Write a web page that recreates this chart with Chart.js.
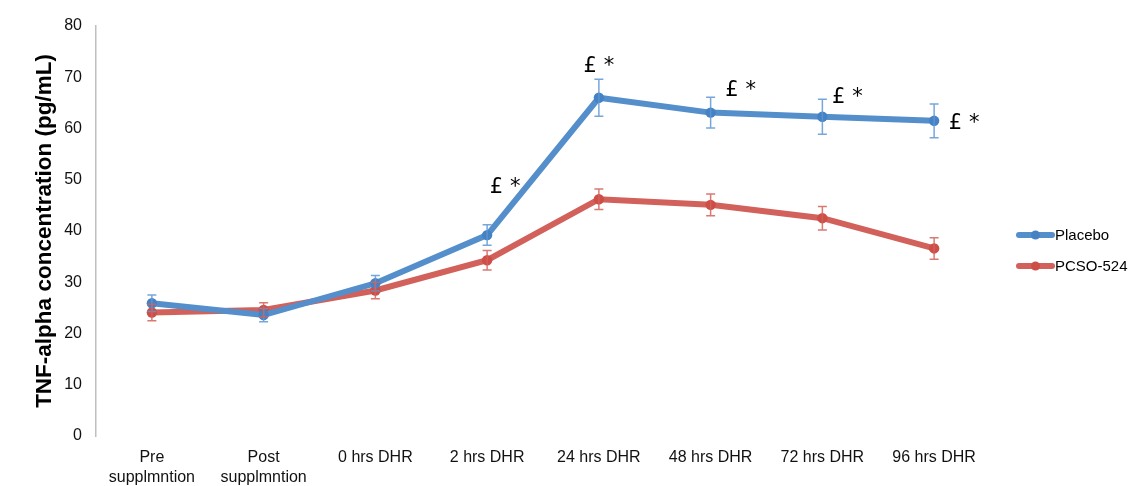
<!DOCTYPE html>
<html>
<head>
<meta charset="utf-8">
<script src="https://cdn.jsdelivr.net/npm/chart.js@4.4.1/dist/chart.umd.min.js"></script>
<style>
    html, body { margin: 0; padding: 0; background: #fff; }
    #wrap { width: 1137px; height: 486px; }
</style>
</head>
<body>
<div id="wrap"><canvas id="tnfChart" width="1137" height="486"></canvas></div>
<script>
// Chart data
const categories = [
    ['Pre', 'supplmntion'],
    ['Post', 'supplmntion'],
    '0 hrs DHR',
    '2 hrs DHR',
    '24 hrs DHR',
    '48 hrs DHR',
    '72 hrs DHR',
    '96 hrs DHR'
];
const placeboValues = [25.9, 23.6, 29.8, 39.2, 66.0, 63.1, 62.3, 61.5];
const placeboErrors = [1.6, 1.3, 1.5, 2.0, 3.6, 3.0, 3.4, 3.3];
const pcsoValues = [24.1, 24.6, 28.4, 34.3, 46.2, 45.1, 42.5, 36.6];
const pcsoErrors = [1.6, 1.4, 1.6, 1.9, 2.0, 2.1, 2.3, 2.1];
const yTicks = [0, 10, 20, 30, 40, 50, 60, 70, 80];
// significance marks ("£ *") and the value they sit at
const sigLabels = ['', '', '', '£ *', '£ *', '£ *', '£ *', '£ *'];
const sigValues = [null, null, null, 48.4, 72.0, 67.5, 66.1, 61.0];

const FONT = '"Liberation Sans", Arial, Helvetica, sans-serif';

// Error bars drawn on top of the lines
const errorBarPlugin = {
    id: 'errorBars',
    afterDatasetsDraw(chart) {
        const ctx = chart.ctx;
        const yScale = chart.scales.y;
        chart.data.datasets.forEach((ds, i) => {
            const meta = chart.getDatasetMeta(i);
            ctx.save();
            ctx.strokeStyle = ds.errorColor;
            ctx.lineWidth = 1.5;
            meta.data.forEach((pt, j) => {
                const v = ds.data[j];
                const e = ds.errors[j];
                const yTop = yScale.getPixelForValue(v + e);
                const yBot = yScale.getPixelForValue(v - e);
                ctx.beginPath();
                ctx.moveTo(pt.x, yTop);
                ctx.lineTo(pt.x, yBot);
                ctx.moveTo(pt.x - 4.5, yTop);
                ctx.lineTo(pt.x + 4.5, yTop);
                ctx.moveTo(pt.x - 4.5, yBot);
                ctx.lineTo(pt.x + 4.5, yBot);
                ctx.stroke();
            });
            ctx.restore();
        });
    }
};

// "£ *" labels next to the placebo points
const sigPlugin = {
    id: 'sigMarks',
    afterDraw(chart) {
        const ctx = chart.ctx;
        const xScale = chart.scales.x;
        const yScale = chart.scales.y;
        const shift = [0, 0, 0, 18, 0, 30, 25, 30];
        ctx.save();
        ctx.fillStyle = '#000';
        ctx.font = '21px "DejaVu Sans", sans-serif';
        ctx.textAlign = 'center';
        ctx.textBaseline = 'middle';
        sigLabels.forEach((txt, i) => {
            if (!txt) return;
            const x = xScale.getPixelForValue(i) + shift[i];
            const y = yScale.getPixelForValue(sigValues[i]);
            ctx.fillText(txt, x, y);
        });
        ctx.restore();
    }
};

// Legend at right: line with a dot, then the name
const legendPlugin = {
    id: 'sideLegend',
    afterDraw(chart) {
        const ctx = chart.ctx;
        const area = chart.chartArea;
        const x0 = area.right + 27;
        let y = area.top + 209;
        ctx.save();
        chart.data.datasets.forEach(ds => {
            ctx.strokeStyle = ds.borderColor;
            ctx.lineWidth = 6;
            ctx.lineCap = 'round';
            ctx.beginPath();
            ctx.moveTo(x0 + 2, y);
            ctx.lineTo(x0 + 35, y);
            ctx.stroke();
            ctx.fillStyle = ds.pointBackgroundColor;
            ctx.beginPath();
            ctx.arc(x0 + 18.5, y, 4.5, 0, Math.PI * 2);
            ctx.fill();
            ctx.fillStyle = '#000';
            ctx.font = '15px ' + FONT;
            ctx.textAlign = 'left';
            ctx.textBaseline = 'middle';
            ctx.fillText(ds.label, x0 + 38, y + 1);
            y += 31;
        });
        ctx.restore();
    }
};

const ctx = document.getElementById('tnfChart').getContext('2d');
const tnfChart = new Chart(ctx, {
    type: 'line',
    data: {
        labels: categories,
        datasets: [
            {
                label: 'Placebo',
                data: placeboValues,
                errors: placeboErrors,
                errorColor: 'rgba(95,150,212,0.85)',
                borderColor: '#548fcc',
                pointBackgroundColor: '#4582c4',
                pointBorderWidth: 0,
                borderWidth: 6,
                pointRadius: 5.2,
                tension: 0
            },
            {
                label: 'PCSO-524',
                data: pcsoValues,
                errors: pcsoErrors,
                errorColor: 'rgba(210,98,92,0.85)',
                borderColor: '#d1615a',
                pointBackgroundColor: '#cc4e47',
                pointBorderWidth: 0,
                borderWidth: 6,
                pointRadius: 5.2,
                tension: 0
            }
        ]
    },
    options: {
        responsive: false,
        animation: false,
        layout: { padding: { top: 26, right: 147, left: 0, bottom: 0 } },
        plugins: {
            legend: { display: false },
            tooltip: { enabled: false }
        },
        scales: {
            x: {
                offset: true,
                grid: { display: false, drawTicks: false },
                border: { display: false },
                ticks: {
                    color: '#111',
                    padding: 12,
                    maxRotation: 0,
                    autoSkip: false,
                    font: { family: FONT, size: 16, lineHeight: 1.25 }
                },
                afterFit(scale) { scale.height = 50; }
            },
            y: {
                min: 0,
                max: 80,
                afterBuildTicks(scale) { scale.ticks = yTicks.map(v => ({ value: v })); },
                grid: { display: false, drawTicks: false },
                border: { display: true, color: '#bfbfbf', width: 1.5 },
                ticks: {
                    color: '#111',
                    padding: 14,
                    font: { family: FONT, size: 16 }
                },
                title: {
                    display: true,
                    text: 'TNF-alpha concentration (pg/mL)',
                    color: '#000',
                    padding: { top: 31, bottom: 0 },
                    font: { family: FONT, size: 22.5, weight: 'bold', lineHeight: 1.2 }
                },
                afterFit(scale) { scale.width = 96; }
            }
        }
    },
    plugins: [errorBarPlugin, sigPlugin, legendPlugin]
});
</script>
</body>
</html>
